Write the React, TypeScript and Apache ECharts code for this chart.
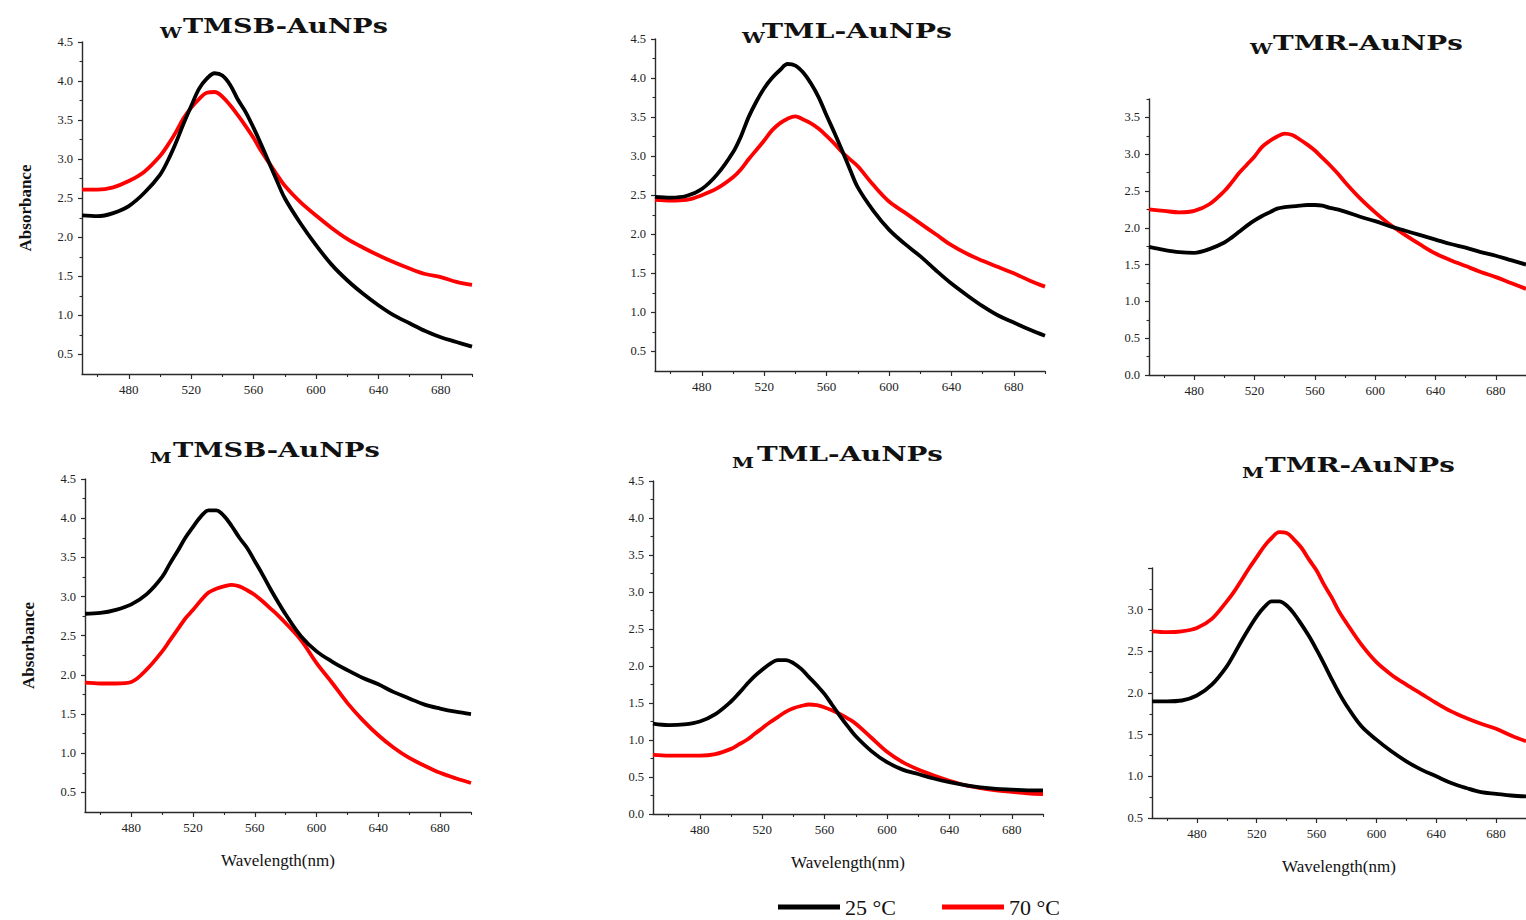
import React, { useEffect, useRef } from "react";
import * as echarts from "echarts";

// ---------------- data ----------------
const wavelengths = [450, 460, 470, 480, 490, 500, 505, 510, 515, 520, 525, 530, 535, 540, 545, 550, 555, 560, 565, 570, 575, 580, 590, 600, 610, 620, 630, 640, 650, 660, 670, 680, 690, 700];

const xLabelTicks = [480, 520, 560, 600, 640, 680];
const xMinorTicks = [460, 500, 540, 580, 620, 660, 700];

const yLabels45 = [0.5, 1.0, 1.5, 2.0, 2.5, 3.0, 3.5, 4.0, 4.5];
const yMinor45 = [0.75, 1.25, 1.75, 2.25, 2.75, 3.25, 3.75, 4.25];
const yLabels0to45 = [0.0, 0.5, 1.0, 1.5, 2.0, 2.5, 3.0, 3.5, 4.0, 4.5];
const yMinor0to45 = [0.25, 0.75, 1.25, 1.75, 2.25, 2.75, 3.25, 3.75, 4.25];
const yLabels0to35 = [0.0, 0.5, 1.0, 1.5, 2.0, 2.5, 3.0, 3.5];
const yMinor0to35 = [0.25, 0.75, 1.25, 1.75, 2.25, 2.75, 3.25, 3.75];
const yLabels05to30 = [0.5, 1.0, 1.5, 2.0, 2.5, 3.0];
const yMajor05to35 = [0.5, 1.0, 1.5, 2.0, 2.5, 3.0, 3.5];
const yMinor05to35 = [0.75, 1.25, 1.75, 2.25, 2.75, 3.25];

const seriesNames = ["25 °C", "70 °C"];

// wTMSB-AuNPs
const wTMSB_25 = [2.28, 2.27, 2.31, 2.4, 2.57, 2.8, 2.98, 3.2, 3.45, 3.68, 3.9, 4.03, 4.1, 4.07, 3.95, 3.76, 3.6, 3.4, 3.18, 2.95, 2.72, 2.5, 2.18, 1.9, 1.65, 1.45, 1.28, 1.13, 1.0, 0.9, 0.8, 0.72, 0.66, 0.6];
const wTMSB_70 = [2.61, 2.61, 2.64, 2.72, 2.84, 3.04, 3.18, 3.34, 3.52, 3.66, 3.77, 3.85, 3.86, 3.8, 3.69, 3.56, 3.42, 3.27, 3.1, 2.95, 2.8, 2.66, 2.45, 2.28, 2.12, 1.98, 1.87, 1.77, 1.68, 1.6, 1.53, 1.49, 1.43, 1.39];
// wTML-AuNPs
const wTML_25 = [2.48, 2.47, 2.49, 2.58, 2.77, 3.05, 3.25, 3.5, 3.7, 3.87, 4.0, 4.1, 4.18, 4.16, 4.07, 3.93, 3.75, 3.52, 3.3, 3.07, 2.83, 2.6, 2.3, 2.06, 1.88, 1.72, 1.54, 1.37, 1.22, 1.08, 0.96, 0.87, 0.78, 0.7];
const wTML_70 = [2.44, 2.43, 2.44, 2.5, 2.59, 2.73, 2.83, 2.96, 3.08, 3.2, 3.33, 3.42, 3.48, 3.51, 3.47, 3.42, 3.35, 3.26, 3.16, 3.05, 2.96, 2.87, 2.63, 2.42, 2.28, 2.14, 2.0, 1.86, 1.75, 1.66, 1.58, 1.5, 1.41, 1.33];
// wTMR-AuNPs
const wTMR_25 = [1.74, 1.7, 1.67, 1.66, 1.71, 1.8, 1.87, 1.95, 2.03, 2.1, 2.16, 2.21, 2.26, 2.28, 2.29, 2.3, 2.31, 2.31, 2.3, 2.27, 2.25, 2.22, 2.15, 2.09, 2.02, 1.96, 1.9, 1.84, 1.78, 1.73, 1.67, 1.62, 1.56, 1.5];
const wTMR_70 = [2.25, 2.23, 2.21, 2.23, 2.32, 2.5, 2.62, 2.75, 2.86, 2.97, 3.1, 3.18, 3.24, 3.28, 3.26, 3.2, 3.13, 3.05, 2.95, 2.85, 2.74, 2.62, 2.4, 2.21, 2.04, 1.9, 1.77, 1.65, 1.56, 1.48, 1.4, 1.33, 1.25, 1.17];
// mTMSB-AuNPs
const mTMSB_25 = [2.78, 2.79, 2.83, 2.9, 3.03, 3.25, 3.42, 3.58, 3.75, 3.89, 4.02, 4.1, 4.1, 4.03, 3.9, 3.75, 3.62, 3.45, 3.28, 3.1, 2.93, 2.77, 2.49, 2.3, 2.17, 2.06, 1.96, 1.88, 1.78, 1.7, 1.62, 1.57, 1.53, 1.5];
const mTMSB_70 = [1.9, 1.89, 1.89, 1.91, 2.07, 2.3, 2.44, 2.58, 2.72, 2.83, 2.95, 3.05, 3.1, 3.13, 3.15, 3.13, 3.08, 3.02, 2.94, 2.85, 2.76, 2.66, 2.44, 2.15, 1.9, 1.64, 1.42, 1.23, 1.07, 0.94, 0.84, 0.75, 0.68, 0.62];
// mTML-AuNPs
const mTML_25 = [1.22, 1.2, 1.21, 1.25, 1.35, 1.52, 1.63, 1.75, 1.86, 1.95, 2.03, 2.08, 2.08, 2.04, 1.96, 1.85, 1.74, 1.62, 1.47, 1.32, 1.18, 1.05, 0.85, 0.7, 0.6, 0.54, 0.48, 0.43, 0.39, 0.36, 0.34, 0.33, 0.32, 0.32];
const mTML_70 = [0.8, 0.79, 0.79, 0.79, 0.81, 0.88, 0.94, 1.0, 1.08, 1.16, 1.24, 1.31, 1.38, 1.43, 1.46, 1.48, 1.47, 1.44, 1.4, 1.35, 1.29, 1.22, 1.03, 0.84, 0.7, 0.6, 0.52, 0.45, 0.39, 0.35, 0.32, 0.3, 0.28, 0.27];
// mTMR-AuNPs
const mTMR_25 = [1.9, 1.9, 1.91, 1.97, 2.1, 2.32, 2.47, 2.63, 2.78, 2.92, 3.03, 3.1, 3.1, 3.05, 2.95, 2.82, 2.68, 2.52, 2.35, 2.17, 2.0, 1.85, 1.6, 1.44, 1.3, 1.18, 1.08, 1.0, 0.92, 0.86, 0.81, 0.79, 0.77, 0.76];
const mTMR_70 = [2.74, 2.73, 2.74, 2.78, 2.89, 3.1, 3.22, 3.36, 3.5, 3.63, 3.76, 3.86, 3.93, 3.92, 3.84, 3.74, 3.6, 3.47, 3.3, 3.15, 2.98, 2.84, 2.58, 2.37, 2.22, 2.1, 1.99, 1.88, 1.78, 1.7, 1.63, 1.57, 1.49, 1.42];

const titleSubs = ["W", "W", "W", "M", "M", "M"];
const titleMains = ["TMSB-AuNPs", "TML-AuNPs", "TMR-AuNPs", "TMSB-AuNPs", "TML-AuNPs", "TMR-AuNPs"];

// ---------------- layout ----------------
type Panel = {
  s25: number[]; s70: number[];
  yMin: number; yMax: number; yLab: number[]; yMaj: number[]; yMin2: number[];
  grid: { left: number; top: number; width: number; height: number };
  t: { subX: number; subY: number; mainX: number; mainY: number; mainW: number };
  yName?: string; xName?: string;
};

const panels: Panel[] = [
  { s25: wTMSB_25, s70: wTMSB_70, yMin: 0.25, yMax: 4.5, yLab: yLabels45, yMaj: yLabels45, yMin2: yMinor45,
    grid: { left: 82, top: 42, width: 390, height: 332 },
    t: { subX: 160, subY: 33, mainX: 183, mainY: 25.5, mainW: 205 }, yName: "Absorbance" },
  { s25: wTML_25, s70: wTML_70, yMin: 0.25, yMax: 4.5, yLab: yLabels45, yMaj: yLabels45, yMin2: yMinor45,
    grid: { left: 655, top: 39, width: 390, height: 332 },
    t: { subX: 742, subY: 38, mainX: 762, mainY: 30.5, mainW: 190 } },
  { s25: wTMR_25, s70: wTMR_70, yMin: 0, yMax: 3.75, yLab: yLabels0to35, yMaj: yLabels0to35, yMin2: yMinor0to35,
    grid: { left: 1149, top: 99, width: 391, height: 276 },
    t: { subX: 1250, subY: 48, mainX: 1273, mainY: 42.5, mainW: 190 } },
  { s25: mTMSB_25, s70: mTMSB_70, yMin: 0.25, yMax: 4.5, yLab: yLabels45, yMaj: yLabels45, yMin2: yMinor45,
    grid: { left: 85, top: 479, width: 386, height: 333 },
    t: { subX: 150, subY: 458, mainX: 173, mainY: 449.5, mainW: 207 }, yName: "Absorbance", xName: "Wavelength(nm)" },
  { s25: mTML_25, s70: mTML_70, yMin: 0, yMax: 4.5, yLab: yLabels0to45, yMaj: yLabels0to45, yMin2: yMinor0to45,
    grid: { left: 653, top: 481, width: 390, height: 333 },
    t: { subX: 732, subY: 462.5, mainX: 757, mainY: 454, mainW: 186 }, xName: "Wavelength(nm)" },
  { s25: mTMR_25, s70: mTMR_70, yMin: 0.5, yMax: 3.5, yLab: yLabels05to30, yMaj: yMajor05to35, yMin2: yMinor05to35,
    grid: { left: 1152, top: 568, width: 396, height: 250 },
    t: { subX: 1242, subY: 472.5, mainX: 1265, mainY: 465, mainW: 190 }, xName: "Wavelength(nm)" },
];

const AXIS_COLOR = "#2a2a2a";
const LABEL_FONT = "'Liberation Serif', 'Times New Roman', serif";
const TITLE_FONT = "'DejaVu Serif', serif";

function measure(text: string, font: string): number {
  const ctx = document.createElement("canvas").getContext("2d");
  if (!ctx) return text.length * 10;
  ctx.font = font;
  return ctx.measureText(text).width;
}

function buildOption() {
  const grids: any[] = [];
  const xAxes: any[] = [];
  const yAxes: any[] = [];
  const series: any[] = [];
  const graphics: any[] = [];

  panels.forEach((p, i) => {
    grids.push({ ...p.grid, containLabel: false });
    xAxes.push({
      type: "value", gridIndex: i, min: 450, max: 700,
      name: p.xName || "", nameLocation: "middle", nameGap: 40,
      nameTextStyle: { fontFamily: LABEL_FONT, fontSize: 17, color: "#111" },
      axisLine: { show: true, onZero: false, lineStyle: { color: AXIS_COLOR, width: 1.4 } },
      axisTick: { show: true, inside: false, length: 5, customValues: xLabelTicks, lineStyle: { color: AXIS_COLOR, width: 1.2 } },
      axisLabel: { show: true, customValues: xLabelTicks, margin: 9, fontFamily: LABEL_FONT, fontSize: 13, color: "#222" },
      splitLine: { show: false },
    });
    xAxes.push({
      type: "value", gridIndex: i, min: 450, max: 700, position: "bottom",
      axisLine: { show: false, onZero: false },
      axisTick: { show: true, inside: false, length: 3, customValues: xMinorTicks, lineStyle: { color: AXIS_COLOR, width: 1.1 } },
      axisLabel: { show: false }, splitLine: { show: false },
    });
    yAxes.push({
      type: "value", gridIndex: i, min: p.yMin, max: p.yMax, position: "left",
      name: p.yName || "", nameLocation: "middle", nameGap: 48,
      nameTextStyle: { fontFamily: LABEL_FONT, fontWeight: "bold", fontSize: 17, color: "#111" },
      axisLine: { show: true, onZero: false, lineStyle: { color: AXIS_COLOR, width: 1.4 } },
      axisTick: { show: true, inside: false, length: 4, customValues: p.yMaj, lineStyle: { color: AXIS_COLOR, width: 1.2 } },
      axisLabel: { show: true, customValues: p.yLab, margin: 9, fontFamily: LABEL_FONT, fontSize: 12.5, color: "#222",
        formatter: (v: number) => v.toFixed(1) },
      splitLine: { show: false },
    });
    yAxes.push({
      type: "value", gridIndex: i, min: p.yMin, max: p.yMax, position: "left",
      axisLine: { show: false, onZero: false },
      axisTick: { show: true, inside: false, length: 2.5, customValues: p.yMin2, lineStyle: { color: AXIS_COLOR, width: 1.1 } },
      axisLabel: { show: false }, splitLine: { show: false },
    });

    const mk = (vals: number[], name: string, color: string) => ({
      type: "line", name, xAxisIndex: 2 * i, yAxisIndex: 2 * i,
      data: wavelengths.map((w, k) => [w, vals[k]]),
      showSymbol: false, symbol: "none", smooth: 0.35, clip: false,
      color, lineStyle: { color, width: 3.8 }, z: name === seriesNames[0] ? 3 : 2,
    });
    series.push(mk(p.s70, seriesNames[1], "#ff0000"));
    series.push(mk(p.s25, seriesNames[0], "#000000"));

    const mainFont = `bold 21px ${TITLE_FONT}`;
    const natural = measure(titleMains[i], mainFont);
    const sx = natural > 0 ? p.t.mainW / natural : 1.3;
    graphics.push({
      type: "text", x: p.t.subX, y: p.t.subY, scaleX: sx,
      style: { text: titleSubs[i], fontFamily: TITLE_FONT, fontWeight: "bold", fontSize: 15, fill: "#111", align: "left", verticalAlign: "middle" },
    });
    graphics.push({
      type: "text", x: p.t.mainX, y: p.t.mainY, scaleX: sx,
      style: { text: titleMains[i], fontFamily: TITLE_FONT, fontWeight: "bold", fontSize: 21, fill: "#111", align: "left", verticalAlign: "middle" },
    });
  });

  return {
    animation: false,
    backgroundColor: "#ffffff",
    grid: grids,
    xAxis: xAxes,
    yAxis: yAxes,
    series,
    legend: {
      data: seriesNames, left: 778, top: 896, padding: 0, icon: "rect", itemWidth: 62, itemHeight: 5, itemGap: 46,
      textStyle: { fontFamily: LABEL_FONT, fontSize: 22, color: "#111" },
    },
    graphic: graphics,
  };
}

export default function App() {
  const ref = useRef<HTMLDivElement>(null);
  useEffect(() => {
    if (!ref.current) return;
    const chart = echarts.init(ref.current, undefined, { renderer: "svg" });
    chart.setOption(buildOption() as any);
    return () => chart.dispose();
  }, []);
  return (
    <div
      ref={ref}
      style={{ position: "fixed", left: 0, top: 0, width: 1526, height: 920, background: "#fff" }}
    />
  );
}
